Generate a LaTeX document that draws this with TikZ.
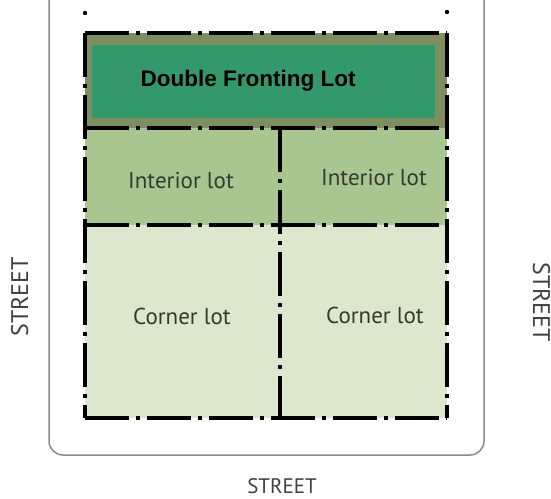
\documentclass[tikz,border=0pt]{standalone}
\usepackage{fontspec}
\setmainfont{PT Sans}
\newfontfamily\arialfont{Liberation Sans}
\usetikzlibrary{positioning}

\definecolor{streetgray}{HTML}{8A8A8A}
\definecolor{olivelot}{HTML}{7E8E60}
\definecolor{doublelot}{HTML}{33996A}
\definecolor{interiorlot}{HTML}{A9C691}
\definecolor{cornerlot}{HTML}{DDE7CD}
\definecolor{lottext}{HTML}{343A2C}

\tikzset{
  lotline/.style={line width=3.5pt, dash pattern=on 44pt off 7pt on 4pt off 7pt},
  lotlabel/.style={font=\fontsize{23}{26}\selectfont, text=lottext},
  streetlabel/.style={font=\fontsize{21}{24}\selectfont, text=black!75, inner sep=0pt}
}

\begin{document}
\begin{tikzpicture}[x=1pt, y=-1pt]
\useasboundingbox (0,0) rectangle (551,498);

% street edge
\draw[streetgray, line width=1.5pt, rounded corners=14pt] (49,0) -- (49,455) -- (484,455) -- (484,0);

% lots
\fill[olivelot] (85,33) rectangle (447,128);
\fill[doublelot] (92,45) rectangle (435,118);
\fill[interiorlot] (85,128) rectangle (447,225);
\fill[cornerlot] (85,225) rectangle (447,418);

% lot lines
\draw[lotline] (85,33) -- (447,33);
\draw[lotline] (85,128) -- (447,128);
\draw[lotline] (85,225) -- (447,225);
\draw[lotline] (85,418) -- (447,418);
\draw[lotline] (85,33) -- (85,418);
\draw[lotline] (447,33) -- (447,418);
\draw[lotline] (280,128) -- (280,418);
\fill (85,13) circle (2.2pt);
\fill (447,12) circle (2.2pt);

% labels
\node (double) at (248,81) {\arialfont\bfseries\fontsize{22.5}{26}\selectfont Double Fronting Lot};
\node[lotlabel] (intA) at (181,180) {Interior lot};
\node[lotlabel] (intB) at (374,177) {Interior lot};
\node[lotlabel] (cornA) at (182,316) {Corner lot};
\node[lotlabel] (cornB) at (375,315) {Corner lot};

\node[streetlabel, anchor=base] (stB) at (282,493) {STREET};
\node[streetlabel, font=\fontsize{24}{26}\selectfont, rotate=90, anchor=base] (stL) at (28,297) {STREET};
\node[streetlabel, font=\fontsize{24}{26}\selectfont, rotate=-90, anchor=base] (stR) at (533,302) {STREET};
\end{tikzpicture}
\end{document}
